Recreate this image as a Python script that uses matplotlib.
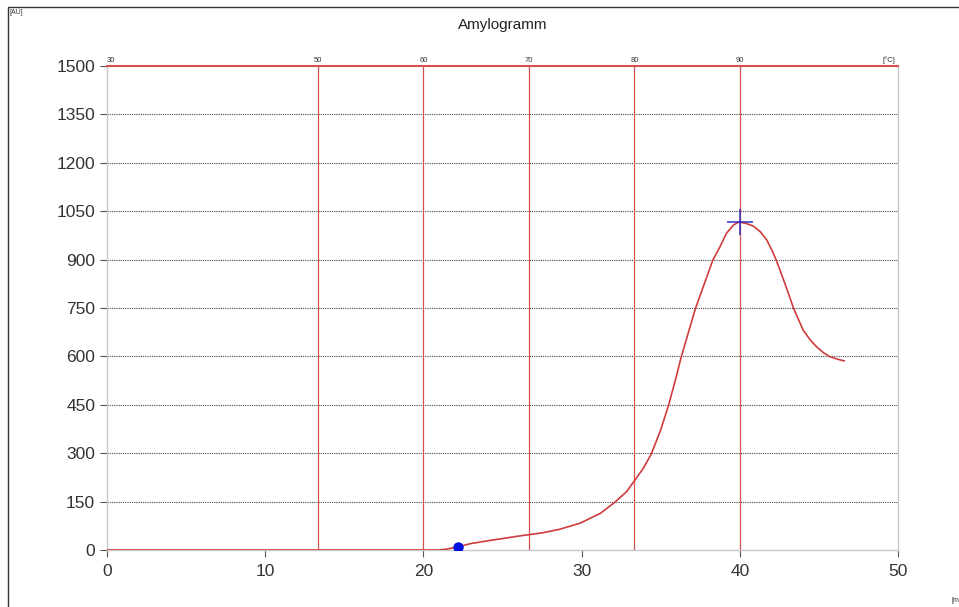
import matplotlib
matplotlib.use("Agg")
from matplotlib import pyplot as plt
from matplotlib.patches import Rectangle

# viscosity curve
time_min = [0, 21.0, 21.5, 22.2, 23.0, 24.0, 24.8, 26.0, 26.6, 27.5, 28.6,
            29.9, 31.2, 32.1, 32.85, 33.3, 33.9, 34.4, 35.0, 35.5, 36.0,
            36.3, 37.2, 38.3, 38.75, 39.15, 39.6, 39.95, 40.4, 40.85, 41.3,
            41.7, 42.0, 42.3, 42.85, 43.4, 44.0, 44.45, 44.85, 45.3, 45.7,
            46.2, 46.6]
viscosity_au = [0, 0, 3, 10, 20, 28, 34, 43, 47, 53, 64,
                83, 114, 148, 181, 212, 253, 297, 372, 449, 540,
                599, 749, 899, 940, 981, 1007, 1017, 1012, 1004, 986,
                961, 932, 899, 826, 749, 682, 651, 630, 611, 599,
                591, 586]

start_point = (22.2, 10)
peak_point = (40.0, 1018)

x_ticks = [0, 10, 20, 30, 40, 50]
y_ticks = [0, 150, 300, 450, 600, 750, 900, 1050, 1200, 1350, 1500]
temp_labels = [30, 50, 60, 70, 80, 90]
heat_rate = 1.5  # degC per minute, starting at 30 degC

W, H = 959, 607
fig = plt.figure(figsize=(W / 100, H / 100), dpi=100)
plt.rcParams['font.family'] = ['Liberation Sans', 'DejaVu Sans']

# outer frame, runs off the right and bottom edge
fig.patches.append(Rectangle((8 / W, -0.05), 1.1, 1 - 7 / H + 0.05,
                             transform=fig.transFigure, fill=False,
                             edgecolor='#333333', linewidth=1.0))

ax = fig.add_axes([107 / W, 1 - 550 / H, (898 - 107) / W, (550 - 66) / H])
ax.set_xlim(0, 50)
ax.set_ylim(0, 1500)

for s in ['left', 'right', 'bottom']:
  ax.spines[s].set_color('#c8c8c8')
  ax.spines[s].set_linewidth(1.0)
ax.spines['top'].set_color('#d85050')
ax.spines['top'].set_linewidth(1.5)

# horizontal grid
for v in y_ticks[1:-1]:
  ax.axhline(v, color='#444444', linewidth=0.8, linestyle=(0, (1, 1)), zorder=1)

# temperature lines and labels
for T in temp_labels:
  t = (T - 30) / heat_rate
  if t > 0:
    ax.axvline(t, color='#d85050', linewidth=0.9, zorder=1)
  ax.text(t, 1.004, str(T), transform=ax.get_xaxis_transform(),
          ha='left' if t == 0 else 'center', va='bottom', fontsize=5.5,
          color='#333333')
ax.text(0.997, 1.004, '[°C]', transform=ax.transAxes, ha='right',
        va='bottom', fontsize=5.5, color='#333333')

ax.plot(time_min, viscosity_au, color='#d03c3c', linewidth=1.2, zorder=3)
ax.plot(*start_point, 'o', color='#0010e0', markersize=6.5, zorder=4)
ax.plot(*peak_point, '+', color='#3030c0', markersize=19, mew=1.1, zorder=4)

ax.set_xticks(x_ticks)
ax.set_yticks(y_ticks)
ax.tick_params(axis='both', labelsize=12.5, color='#555555', length=5,
               width=0.8, labelcolor='#333333')
ax.tick_params(axis='x', pad=5)

ax.set_title('Amylogramm', fontsize=11, pad=27, color='#222222')

fig.text(10 / W, 1 - 12 / H, '[AU]', fontsize=5, color='#333333',
         va='center', ha='left')
fig.text(951 / W, 1 - 600 / H, '[min]', fontsize=5, color='#333333',
         va='center', ha='left')

fig.savefig('out.png', dpi=100)
